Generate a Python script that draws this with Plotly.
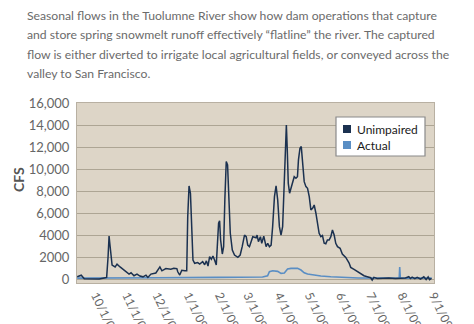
import pandas as pd
import plotly.graph_objects as go

# Days since 2008-10-01 (x values) and flows (CFS)
unimp_days = [-18.8, -14.8, -11.8, -5.9, -1, 3, 7.9, 10.4, 11.8, 12.8, 13.8, 15.8, 18.8, 20.7, 23.7, 27.6,
              30.6, 32.6, 34.6, 37.5, 40.5, 43.4, 46.4, 49.4, 51.3, 54.3, 59.2, 63.2, 65.2, 69.1, 74, 77,
              80, 80.9, 82.9, 84.9, 87.9, 89.8, 90.8, 92.1, 93.5, 94.4, 96, 97.7, 100.7, 102.7, 105.6,
              107.6, 109.3, 110.9, 112.5, 114.2, 115.8, 117.5, 119.1, 120.1, 121.4, 122.4, 123.4, 125.1,
              126.4, 127.6, 129, 130.3, 131.6, 133, 135, 137.2, 140.5, 142.8, 144.8, 147.1, 148.8, 150.3,
              152, 155.3, 158.6, 159.6, 160.9, 162.9, 164.2, 166.2, 168.5, 170.1, 171.8, 173.5, 175,
              176.8, 178.4, 180, 181.7, 183.3, 184.9, 186.6, 187.6, 188.6, 189.5, 190.5, 191.8, 193.2,
              194.8, 196.4, 198.1, 199.6, 200.6, 202.1, 203.4, 204.6, 206.3, 208, 209.6, 211.3, 212.9,
              214.6, 216.2, 217.9, 219.4, 221.1, 222.8, 224.4, 226.1, 227.7, 229.3, 231, 232.7, 234.3,
              236, 237.6, 239.3, 241.9, 244.1, 247.5, 250.7, 252.4, 255.7, 259, 262.3, 265.6, 268.8,
              272.2, 273.7, 275.4, 278.7, 283.6, 290.2, 296.8, 301.8, 306.7, 310, 311.7, 313.3, 316,
              318.3, 321.6, 324.9, 327.2, 329.2, 330.6, 332.6]
unimp_cfs = [200, 350, 20, 0, 50, 0, 100, 150, 2000, 3900, 3000, 1270, 1100, 1350, 1100, 800,
             650, 450, 570, 300, 450, 270, 200, 350, 150, 450, 550, 1100, 750, 950, 900, 970,
             950, 660, 360, 800, 750, 750, 5670, 8460, 7800, 4760, 1730, 1430, 1500, 1365, 1580,
             1300, 1650, 1180, 2030, 1800, 2090, 1700, 1270, 2940, 5070, 5300, 3550, 2275,
             2940, 7190, 10670, 10370, 7190, 4160, 2640, 2180, 1970, 2180, 2940, 4000, 3850, 3090,
             2940, 3850, 3750, 4000, 3400, 3850, 3250, 3900, 2940, 3250, 2940, 3090, 4760,
             7490, 8460, 7190, 4760, 4000, 4760, 8700, 12650, 14000, 11740, 8700, 7800, 8250,
             8700, 9300, 9160, 9300, 10830, 11890, 12040, 10980, 8850, 8400, 8250, 7490, 6280,
             6430, 6730, 5980, 5070, 4160, 3850, 3950, 3250, 3200, 3550, 3550, 3850, 4460,
             4000, 3250, 2940, 2790, 2275, 1970, 1480, 1060, 880, 670, 520, 300, 210,
             120, -90, 150, 60, 100, 100, 60, 60, 100, 210, 50, 180, 30,
             150, 0, 200, -50, 200, -50, 60]

actual_days = [-18.8, 10, 60, 120, 165, 170, 171.8, 175, 180, 183.3, 186.6, 189.8, 193.2, 199.7, 203.1,
               206.3, 209.6, 216.2, 222.8, 232.7, 242.6, 260, 300, 300.5, 301, 301.6, 332.6]
actual_cfs = [80, 80, 120, 150, 180, 300, 660, 750, 700, 520, 550, 910, 970, 970, 820,
              570, 450, 360, 270, 210, 150, 100, 80, 80, 1100, 80, 80]

series_names = ["Unimpaired", "Actual"]

y_tickvals = [0, 2000, 4000, 6000, 8000, 10000, 12000, 14000, 16000]
y_ticktext = ["0", "2000", "4000", "6,000", "8,000", "10,000", "12,000", "14,000", "16,000"]
x_tickdates = ["2008-10-01", "2008-11-01", "2008-12-01", "2009-01-01", "2009-02-01", "2009-03-01",
               "2009-04-01", "2009-05-01", "2009-06-01", "2009-07-01", "2009-08-01", "2009-09-01"]
x_ticktext = ["10/1/08", "11/1/08", "12/1/08", "1/1/09", "2/1/09", "3/1/09",
              "4/1/09", "5/1/09", "6/1/09", "7/1/09", "8/1/09", "9/1/09"]

intro_lines = [
    "Seasonal flows in the Tuolumne River show how dam operations that capture",
    "and store spring snowmelt runoff effectively \u201cflatline\u201d the river. The captured",
    "flow is either diverted to irrigate local agricultural fields, or conveyed across the",
    "valley to San Francisco.",
]

base = pd.Timestamp("2008-10-01")
unimp_x = base + pd.to_timedelta(unimp_days, unit="D")
actual_x = base + pd.to_timedelta(actual_days, unit="D")

NAVY = "#1b3150"
BLUE = "#5a8ec4"
COLORS = [NAVY, BLUE]
FONT = "Lato"

fig = go.Figure()
fig.add_trace(go.Scatter(x=actual_x, y=actual_cfs, mode="lines", name=series_names[1],
                         line=dict(color=BLUE, width=1.6), showlegend=False))
fig.add_trace(go.Scatter(x=unimp_x, y=unimp_cfs, mode="lines", name=series_names[0],
                         line=dict(color=NAVY, width=1.5), showlegend=False))

L, R, T, B = 77, 40, 103, 41
W, H = 474, 324
pw, ph = W - L - R, H - T - B


def px_x(x):
    return (x - L) / pw


def px_y(y):
    return (H - B - y) / ph


annotations = []
line_y = [15, 34.5, 54, 73.5]
for txt, yp in zip(intro_lines, line_y):
    annotations.append(dict(text=txt, xref="paper", yref="paper",
                            x=px_x(25), y=px_y(yp),
                            xanchor="left", yanchor="middle", showarrow=False,
                            font=dict(family=FONT, size=12.2, color="#6b6b6b")))
annotations.append(dict(text="<b>CFS</b>", xref="paper", yref="paper",
                        x=px_x(18), y=px_y(180), textangle=-90,
                        xanchor="center", yanchor="middle", showarrow=False,
                        font=dict(family=FONT, size=14, color="#555555")))

# legend box drawn as shapes + text
shapes = [dict(type="rect", xref="paper", yref="paper",
               x0=px_x(336), x1=px_x(425), y0=px_y(156), y1=px_y(117),
               fillcolor="white", line=dict(color="#8a8a8a", width=1.2), layer="above")]
for i, (nm, col) in enumerate(zip(series_names, COLORS)):
    cy = 129 + 16 * i
    shapes.append(dict(type="rect", xref="paper", yref="paper",
                       x0=px_x(343), x1=px_x(351), y0=px_y(cy + 4), y1=px_y(cy - 4),
                       fillcolor=col, line=dict(width=0), layer="above"))
    annotations.append(dict(text=nm, xref="paper", yref="paper",
                            x=px_x(355), y=px_y(cy), xanchor="left", yanchor="middle",
                            showarrow=False,
                            font=dict(family=FONT, size=12, color="#1a1a1a")))

fig.update_layout(
    width=W, height=H,
    margin=dict(l=L, r=R, t=T, b=B, autoexpand=False),
    paper_bgcolor="white",
    plot_bgcolor="#ddd5c7",
    font=dict(family=FONT, size=13, color="#666666"),
    annotations=annotations,
    shapes=shapes,
    showlegend=False,
    xaxis=dict(type="date", range=["2008-09-12", "2009-09-01"],
               tickvals=pd.to_datetime(x_tickdates), ticktext=x_ticktext,
               tickangle=64, showgrid=False, zeroline=False,
               showline=True, linecolor="#b8b0a2", linewidth=1, mirror=True,
               tickfont=dict(family=FONT, size=12, color="#666666"), automargin=False),
    yaxis=dict(range=[-360, 16000], tickvals=y_tickvals, ticktext=y_ticktext,
               showgrid=True, gridcolor="#ada594", gridwidth=1.2, zeroline=False,
               showline=True, linecolor="#b8b0a2", linewidth=1, mirror=True,
               ticks="", ticklabelstandoff=4,
               tickfont=dict(family=FONT, size=13, color="#666666"), automargin=False),
)

fig.write_html("out.html")
